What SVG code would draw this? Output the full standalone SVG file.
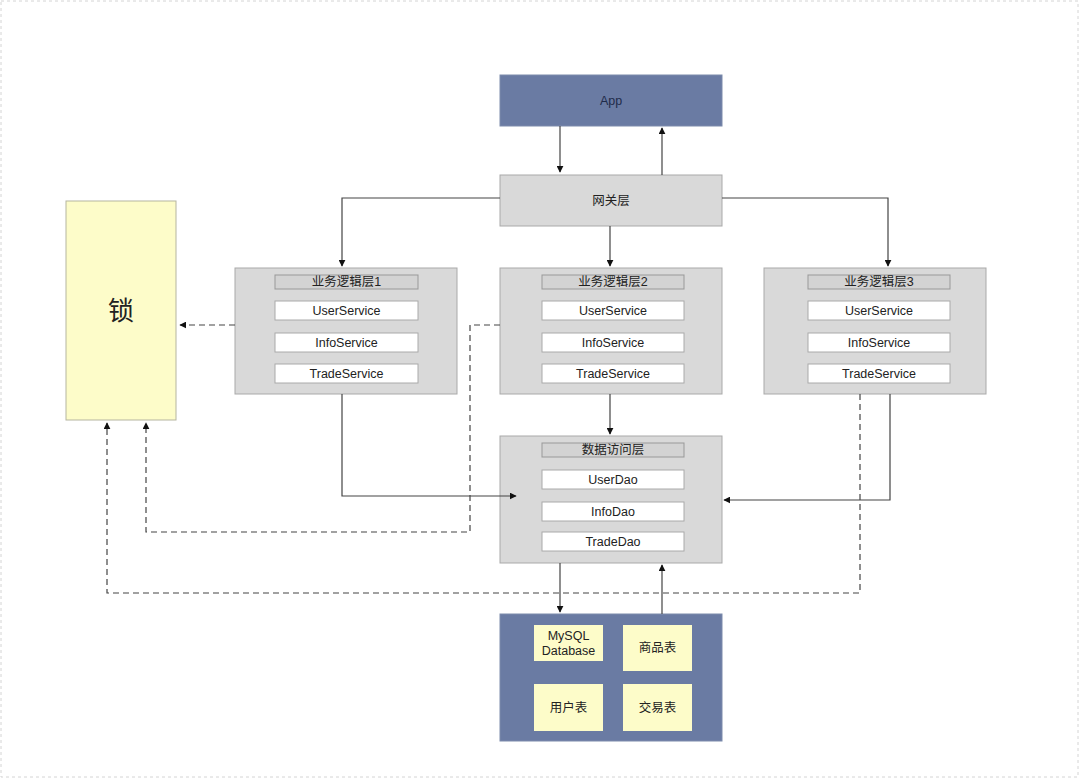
<svg xmlns="http://www.w3.org/2000/svg" width="1080" height="780" viewBox="0 0 1080 780">
<style>
.frame{fill:#fff;stroke:#d4d4d4;stroke-width:1;stroke-dasharray:3 3}
.blue{fill:#6a7ba3;stroke:#7d8bab;stroke-width:1}
.grey{fill:#d9d9d9;stroke:#a9a9a9;stroke-width:1}
.hdr{fill:#d3d3d3;stroke:#999;stroke-width:1}
.svc{fill:#fff;stroke:#aaa;stroke-width:1}
.yel{fill:#fdfcc9;stroke:#b5b5a0;stroke-width:1}
.yel2{fill:#fdfcc9;stroke:none}
text{font-family:"Liberation Sans","Noto Sans CJK SC",sans-serif;font-size:12.5px;fill:#222;text-anchor:middle;dominant-baseline:central}
.app{fill:#1f2b4a}
.big{font-size:26px;fill:#222}
.ln{fill:none;stroke:#444;stroke-width:1.2}
.dash{fill:none;stroke:#444;stroke-width:1.2;stroke-dasharray:6 4}
</style>
<defs>
<marker id="ah" viewBox="0 0 10 10" refX="9" refY="5" markerWidth="7" markerHeight="7" orient="auto" markerUnits="userSpaceOnUse">
<path d="M0,0 L10,5 L0,10 z" fill="#111"/>
</marker>
</defs>
<rect class="frame" x="1" y="1" width="1077" height="776"/>

<g id="app"><rect class="blue" x="500" y="75" width="222" height="51"/><text class="app" x="611" y="101">App</text></g>
<g id="gateway"><rect class="grey" x="500" y="175" width="222" height="51"/><text x="611" y="201">网关层</text></g>

<g id="lock"><rect class="yel" x="66" y="201" width="110" height="219"/><text class="big" x="121" y="311">锁</text></g>

<g id="biz1">
<rect class="grey" x="235" y="268" width="222" height="126"/>
<rect class="hdr" x="275" y="275" width="143" height="14"/><text x="346.5" y="282">业务逻辑层1</text>
<rect class="svc" x="275" y="301" width="143" height="19"/><text x="346.5" y="310.5">UserService</text>
<rect class="svc" x="275" y="333" width="143" height="19"/><text x="346.5" y="342.5">InfoService</text>
<rect class="svc" x="275" y="364" width="143" height="19"/><text x="346.5" y="373.5">TradeService</text>
</g>
<g id="biz2">
<rect class="grey" x="500" y="268" width="222" height="126"/>
<rect class="hdr" x="542" y="275" width="142" height="14"/><text x="613" y="282">业务逻辑层2</text>
<rect class="svc" x="542" y="301" width="142" height="19"/><text x="613" y="310.5">UserService</text>
<rect class="svc" x="542" y="333" width="142" height="19"/><text x="613" y="342.5">InfoService</text>
<rect class="svc" x="542" y="364" width="142" height="19"/><text x="613" y="373.5">TradeService</text>
</g>
<g id="biz3">
<rect class="grey" x="764" y="268" width="222" height="126"/>
<rect class="hdr" x="808" y="275" width="142" height="14"/><text x="879" y="282">业务逻辑层3</text>
<rect class="svc" x="808" y="301" width="142" height="19"/><text x="879" y="310.5">UserService</text>
<rect class="svc" x="808" y="333" width="142" height="19"/><text x="879" y="342.5">InfoService</text>
<rect class="svc" x="808" y="364" width="142" height="19"/><text x="879" y="373.5">TradeService</text>
</g>
<g id="dao">
<rect class="grey" x="500" y="436" width="222" height="127"/>
<rect class="hdr" x="542" y="443" width="142" height="14"/><text x="613" y="450">数据访问层</text>
<rect class="svc" x="542" y="470" width="142" height="19"/><text x="613" y="479.5">UserDao</text>
<rect class="svc" x="542" y="502" width="142" height="19"/><text x="613" y="511.5">InfoDao</text>
<rect class="svc" x="542" y="532" width="142" height="19"/><text x="613" y="541.5">TradeDao</text>
</g>
<g id="db">
<rect class="blue" x="500" y="614" width="222" height="127"/>
<rect class="yel2" x="534" y="625" width="69" height="36"/><text x="568.5" y="636">MySQL</text><text x="568.5" y="651">Database</text>
<rect class="yel2" x="623" y="625" width="69" height="46"/><text x="657.5" y="648">商品表</text>
<rect class="yel2" x="534" y="684" width="69" height="47"/><text x="568.5" y="707.5">用户表</text>
<rect class="yel2" x="623" y="684" width="69" height="47"/><text x="657.5" y="707.5">交易表</text>
</g>

<g id="connectors">
<path class="ln" d="M560,126 V172" marker-end="url(#ah)"/>
<path class="ln" d="M662,175 V128" marker-end="url(#ah)"/>
<path class="ln" d="M500,198 H342 V266" marker-end="url(#ah)"/>
<path class="ln" d="M610,226 V266" marker-end="url(#ah)"/>
<path class="ln" d="M722,198 H888 V266" marker-end="url(#ah)"/>
<path class="ln" d="M342,394 V496 H516" marker-end="url(#ah)"/>
<path class="ln" d="M610,394 V434" marker-end="url(#ah)"/>
<path class="ln" d="M890,394 V500 H724" marker-end="url(#ah)"/>
<path class="ln" d="M560,563 V612" marker-end="url(#ah)"/>
<path class="ln" d="M662,614 V565" marker-end="url(#ah)"/>
<path class="dash" d="M235,325 H180" marker-end="url(#ah)"/>
<path class="dash" d="M500,325 H470 V532 H146 V423" marker-end="url(#ah)"/>
<path class="dash" d="M860,394 V593 H107 V423" marker-end="url(#ah)"/>
</g>
</svg>
